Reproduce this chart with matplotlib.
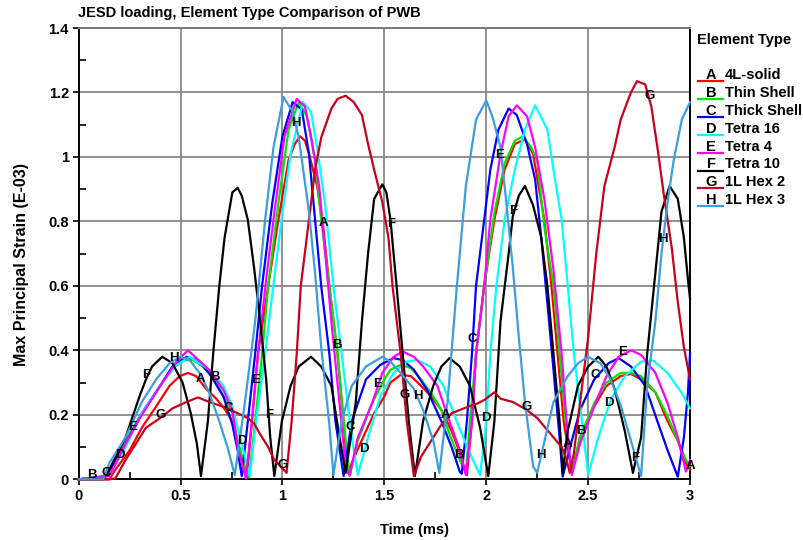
import numpy as np
import matplotlib
matplotlib.use('Agg')
import matplotlib.pyplot as plt
from matplotlib.lines import Line2D

plt.rcParams['font.family'] = ['Liberation Sans', 'DejaVu Sans']
plt.rcParams['font.weight'] = 'bold'

# ---- data (time in ms, strain in E-03) ----
tA = [0, 0.15, 0.18, 0.25, 0.31, 0.38, 0.446, 0.495, 0.536, 0.577, 0.626, 0.675, 0.72, 0.754, 0.78, 0.816, 0.825,
      0.85, 0.88, 0.93, 0.98, 1.03, 1.06, 1.087, 1.11, 1.13, 1.17, 1.20, 1.23, 1.27, 1.30, 1.32, 1.36, 1.41, 1.45,
      1.50, 1.53, 1.58, 1.63, 1.68, 1.73, 1.78, 1.83, 1.86, 1.89, 1.905, 1.93, 1.95, 1.99, 2.04, 2.09, 2.14, 2.19,
      2.23, 2.285, 2.32, 2.35, 2.38, 2.42, 2.46, 2.53, 2.59, 2.66, 2.71, 2.76, 2.83, 2.89, 2.94, 2.98, 3.0]
vA = [0, 0, 0.03, 0.09, 0.16, 0.226, 0.29, 0.32, 0.33, 0.32, 0.28, 0.25, 0.215, 0.18, 0.11, 0.03, 0.003,
      0.18, 0.39, 0.60, 0.805, 0.99, 1.04, 1.064, 1.05, 1.01, 0.91, 0.785, 0.60, 0.39, 0.18, 0.02, 0.08, 0.15, 0.205,
      0.257, 0.30, 0.324, 0.32, 0.29, 0.257, 0.215, 0.15, 0.10, 0.04, 0.013, 0.18, 0.39, 0.60, 0.805, 0.96, 1.04, 1.054,
      1.01, 0.805, 0.60, 0.39, 0.18, 0.02, 0.13, 0.226, 0.29, 0.32, 0.327, 0.31, 0.27, 0.18, 0.12, 0.05, 0.03]

tB = [0, 0.14, 0.23, 0.31, 0.40, 0.46, 0.52, 0.56, 0.61, 0.675, 0.72, 0.754, 0.78, 0.825, 0.836, 0.866, 0.90, 0.93,
      0.98, 1.03, 1.08, 1.12, 1.16, 1.19, 1.23, 1.27, 1.30, 1.33, 1.37, 1.44, 1.50, 1.53, 1.58, 1.63, 1.68, 1.73,
      1.78, 1.82, 1.87, 1.90, 1.92, 1.95, 1.99, 2.04, 2.09, 2.14, 2.18, 2.22, 2.25, 2.285, 2.33, 2.36, 2.39, 2.42,
      2.46, 2.53, 2.59, 2.66, 2.71, 2.76, 2.83, 2.89, 2.94, 2.98, 3.0]
vB = [0, 0.01, 0.12, 0.205, 0.29, 0.345, 0.37, 0.37, 0.35, 0.30, 0.246, 0.205, 0.12, 0.02, 0.006, 0.18, 0.39, 0.60,
      0.857, 1.085, 1.17, 1.126, 0.99, 0.805, 0.60, 0.39, 0.18, 0.01, 0.12, 0.236, 0.31, 0.34, 0.355, 0.345, 0.31, 0.267,
      0.215, 0.14, 0.06, 0.02, 0.18, 0.39, 0.60, 0.826, 0.98, 1.05, 1.064, 1.03, 0.99, 0.785, 0.60, 0.39, 0.18, 0.02,
      0.13, 0.236, 0.30, 0.33, 0.33, 0.32, 0.27, 0.195, 0.12, 0.06, 0.04]

tC = [0, 0.134, 0.23, 0.31, 0.40, 0.46, 0.53, 0.58, 0.64, 0.71, 0.754, 0.78, 0.80, 0.83, 0.866, 0.90, 0.95, 1.00,
      1.05, 1.095, 1.13, 1.16, 1.19, 1.23, 1.26, 1.30, 1.34, 1.41, 1.48, 1.545, 1.59, 1.645, 1.71, 1.78, 1.83, 1.87,
      1.88, 1.905, 1.93, 1.95, 1.99, 2.02, 2.06, 2.11, 2.15, 2.20, 2.24, 2.27, 2.30, 2.33, 2.36, 2.375, 2.42, 2.46,
      2.53, 2.60, 2.65, 2.71, 2.78, 2.84, 2.89, 2.94, 2.97, 2.99, 3.0]
vC = [0, 0.01, 0.11, 0.205, 0.29, 0.35, 0.38, 0.37, 0.33, 0.257, 0.17, 0.09, 0.01, 0.18, 0.39, 0.60, 0.857, 1.064,
      1.17, 1.147, 1.01, 0.805, 0.60, 0.39, 0.18, 0.01, 0.18, 0.31, 0.355, 0.376, 0.37, 0.34, 0.277, 0.18, 0.10, 0.024,
      0.017, 0.18, 0.39, 0.60, 0.805, 0.96, 1.085, 1.15, 1.13, 1.04, 0.93, 0.75, 0.547, 0.34, 0.13, 0.008, 0.12, 0.215,
      0.31, 0.36, 0.376, 0.35, 0.29, 0.18, 0.09, 0.008, 0.13, 0.27, 0.39]

tD = [0, 0.15, 0.23, 0.31, 0.40, 0.48, 0.545, 0.64, 0.71, 0.754, 0.80, 0.84, 0.87, 0.915, 0.955, 0.995, 1.04, 1.10,
      1.14, 1.17, 1.21, 1.25, 1.30, 1.34, 1.37, 1.42, 1.48, 1.545, 1.61, 1.66, 1.725, 1.79, 1.855, 1.92, 1.97, 2.00,
      2.02, 2.05, 2.09, 2.14, 2.19, 2.24, 2.30, 2.33, 2.37, 2.40, 2.43, 2.47, 2.50, 2.55, 2.61, 2.68, 2.76, 2.82,
      2.89, 2.96, 3.0]
vD = [0, 0.01, 0.10, 0.205, 0.29, 0.355, 0.38, 0.34, 0.29, 0.226, 0.11, 0.01, 0.18, 0.39, 0.60, 0.805, 1.01, 1.17,
      1.14, 1.03, 0.85, 0.60, 0.34, 0.13, 0.013, 0.13, 0.257, 0.33, 0.365, 0.37, 0.35, 0.29, 0.18, 0.08, 0.013, 0.18,
      0.39, 0.60, 0.805, 0.96, 1.085, 1.16, 1.085, 0.96, 0.805, 0.60, 0.39, 0.18, 0.013, 0.13, 0.246, 0.32, 0.365, 0.368,
      0.33, 0.267, 0.22]

tE = [0, 0.15, 0.23, 0.31, 0.40, 0.48, 0.536, 0.64, 0.71, 0.754, 0.78, 0.82, 0.85, 0.88, 0.92, 0.96, 1.01, 1.07,
      1.11, 1.14, 1.18, 1.21, 1.24, 1.28, 1.31, 1.33, 1.37, 1.44, 1.49, 1.545, 1.59, 1.645, 1.69, 1.76, 1.82, 1.87,
      1.90, 1.93, 1.95, 1.99, 2.02, 2.07, 2.11, 2.15, 2.20, 2.24, 2.285, 2.33, 2.37, 2.40, 2.42, 2.46, 2.53, 2.59,
      2.65, 2.71, 2.76, 2.83, 2.89, 2.94, 2.98, 3.0]
vE = [0, 0.01, 0.11, 0.20, 0.29, 0.365, 0.40, 0.34, 0.277, 0.215, 0.10, 0.003, 0.18, 0.39, 0.62, 0.826, 1.064, 1.18,
      1.157, 1.064, 0.91, 0.70, 0.49, 0.236, 0.04, 0.013, 0.13, 0.236, 0.33, 0.38, 0.396, 0.38, 0.35, 0.29, 0.18, 0.09,
      0.013, 0.18, 0.39, 0.60, 0.805, 1.01, 1.126, 1.16, 1.126, 1.03, 0.87, 0.65, 0.39, 0.13, 0.013, 0.11, 0.226, 0.32,
      0.38, 0.40, 0.386, 0.33, 0.236, 0.13, 0.024, 0.06]

tF = [0, 0.12, 0.15, 0.23, 0.30, 0.33, 0.36, 0.41, 0.46, 0.51, 0.55, 0.58, 0.60, 0.634, 0.66, 0.69, 0.716, 0.754,
      0.78, 0.80, 0.83, 0.86, 0.89, 0.92, 0.94, 0.96, 0.997, 1.04, 1.08, 1.14, 1.19, 1.24, 1.28, 1.31, 1.36, 1.39, 1.42,
      1.45, 1.49, 1.51, 1.53, 1.56, 1.59, 1.62, 1.65, 1.69, 1.74, 1.78, 1.82, 1.87, 1.92, 1.97, 2.01, 2.04, 2.07, 2.11,
      2.13, 2.16, 2.19, 2.23, 2.27, 2.30, 2.33, 2.36, 2.375, 2.40, 2.45, 2.50, 2.55, 2.59, 2.63, 2.68, 2.72, 2.76, 2.79,
      2.83, 2.86, 2.90, 2.94, 2.97, 2.99, 3.0]
vF = [0, 0, 0.03, 0.13, 0.26, 0.31, 0.35, 0.38, 0.36, 0.30, 0.205, 0.11, 0.01, 0.18, 0.39, 0.60, 0.75, 0.89,
      0.904, 0.88, 0.805, 0.66, 0.495, 0.31, 0.13, 0.01, 0.18, 0.29, 0.35, 0.38, 0.35, 0.29, 0.13, 0.02, 0.24, 0.49, 0.70,
      0.87, 0.915, 0.89, 0.805, 0.60, 0.39, 0.18, 0.01, 0.18, 0.29, 0.35, 0.376, 0.35, 0.29, 0.16, 0.01, 0.18, 0.49, 0.70,
      0.815, 0.88, 0.91, 0.85, 0.75, 0.60, 0.39, 0.18, 0.02, 0.15, 0.29, 0.35, 0.38, 0.35, 0.28, 0.15, 0.02, 0.13, 0.39,
      0.64, 0.83, 0.91, 0.87, 0.75, 0.62, 0.56]

tG = [0, 0.15, 0.18, 0.23, 0.28, 0.33, 0.40, 0.46, 0.53, 0.585, 0.64, 0.71, 0.78, 0.83, 0.86, 0.89, 0.93, 0.96,
      1.02, 1.045, 1.07, 1.09, 1.13, 1.16, 1.19, 1.24, 1.27, 1.31, 1.35, 1.39, 1.42, 1.45, 1.49, 1.52, 1.54, 1.58, 1.61,
      1.645, 1.68, 1.73, 1.78, 1.83, 1.89, 1.96, 1.99, 2.04, 2.07, 2.13, 2.20, 2.25, 2.285, 2.33, 2.37, 2.39, 2.41,
      2.43, 2.46, 2.50, 2.54, 2.58, 2.63, 2.66, 2.71, 2.74, 2.78, 2.81, 2.84, 2.87, 2.91, 2.94, 2.97, 3.0]
vG = [0, 0, 0.003, 0.06, 0.11, 0.16, 0.19, 0.22, 0.24, 0.254, 0.24, 0.225, 0.205, 0.19, 0.174, 0.14, 0.10, 0.06,
      0.02, 0.18, 0.39, 0.60, 0.805, 0.96, 1.06, 1.15, 1.18, 1.19, 1.17, 1.13, 1.04, 0.96, 0.86, 0.75, 0.60, 0.39, 0.18,
      0.01, 0.07, 0.12, 0.17, 0.205, 0.22, 0.236, 0.246, 0.27, 0.25, 0.24, 0.215, 0.19, 0.164, 0.13, 0.10, 0.07, 0.02,
      0.08, 0.236, 0.44, 0.70, 0.91, 1.03, 1.116, 1.20, 1.235, 1.225, 1.157, 1.03, 0.89, 0.72, 0.55, 0.41, 0.31]

tH = [0, 0.12, 0.15, 0.23, 0.31, 0.38, 0.446, 0.50, 0.544, 0.593, 0.64, 0.69, 0.73, 0.766, 0.816, 0.866, 0.915,
      0.956, 1.005, 1.05, 1.08, 1.13, 1.16, 1.19, 1.23, 1.25, 1.29, 1.34, 1.41, 1.49, 1.53, 1.58, 1.645, 1.69, 1.74,
      1.77, 1.81, 1.856, 1.90, 1.95, 2.00, 2.03, 2.07, 2.10, 2.13, 2.16, 2.19, 2.23, 2.25, 2.29, 2.33, 2.40, 2.45,
      2.50, 2.56, 2.61, 2.66, 2.71, 2.76, 2.79, 2.83, 2.86, 2.89, 2.92, 2.96, 3.0]
vH = [0, 0, 0.05, 0.13, 0.24, 0.31, 0.36, 0.38, 0.37, 0.33, 0.27, 0.18, 0.10, 0.013, 0.24, 0.49, 0.805,
      1.03, 1.186, 1.14, 1.06, 0.83, 0.64, 0.41, 0.17, 0.013, 0.18, 0.29, 0.35, 0.38, 0.365, 0.33, 0.28, 0.215, 0.12,
      0.02, 0.24, 0.60, 0.91, 1.116, 1.175, 1.126, 1.03, 0.85, 0.66, 0.44, 0.24, 0.04, 0.02, 0.13, 0.24, 0.32, 0.36,
      0.38, 0.36, 0.31, 0.23, 0.12, 0.01, 0.29, 0.49, 0.70, 0.86, 0.99, 1.116, 1.17]

letters = ['A', 'B', 'C', 'D', 'E', 'F', 'G', 'H']
names = ['4L-solid', 'Thin Shell', 'Thick Shell', 'Tetra 16', 'Tetra 4', 'Tetra 10', '1L Hex 2', '1L Hex 3']
colors = ['#ff0000', '#00e600', '#0000ff', '#00ffff', '#ff00ff', '#000000', '#c80020', '#3c9ee0']
times = [tA, tB, tC, tD, tE, tF, tG, tH]
vals = [vA, vB, vC, vD, vE, vF, vG, vH]

xticks = [0, 0.5, 1, 1.5, 2, 2.5, 3]
xticklabels = ['0', '0.5', '1', '1.5', '2', '2.5', '3']
yticks = [0, 0.2, 0.4, 0.6, 0.8, 1.0, 1.2, 1.4]
yticklabels = ['0', '0.2', '0.4', '0.6', '0.8', '1', '1.2', '1.4']

W, H = 804, 540
fig = plt.figure(figsize=(W / 100, H / 100), dpi=100)
ax = fig.add_axes([78.7 / W, 1 - 479.3 / H, (690 - 78.7) / W, (479.3 - 28) / H])

for i in range(8):
    t = np.array(times[i])
    v = np.array(vals[i])
    ax.plot(t, v, color=colors[i], lw=1.6, zorder=3 + i, clip_on=False)
    # curve letters every 0.6 ms, staggered by series
    for k in range(6):
        tt = i / 15 + 0.6 * k
        if tt <= 0 or tt > 3.0001:
            continue
        ax.text(tt, np.interp(tt, t, v) + 0.01, letters[i], ha='center', va='center',
                fontsize=9.5, color='black', zorder=20, clip_on=False)

ax.set_xlim(0, 3)
ax.set_ylim(0, 1.4)
ax.set_xticks(xticks)
ax.set_xticklabels(xticklabels)
ax.set_yticks(yticks)
ax.set_yticklabels(yticklabels)
ax.set_xticks(np.arange(0.25, 3, 0.5), minor=True)
ax.set_yticks(np.arange(0.1, 1.4, 0.2), minor=True)
ax.tick_params(which='major', direction='out', length=4, width=1.2, labelsize=10.5, pad=3)
ax.tick_params(which='minor', direction='in', length=5, width=1.2)
ax.grid(True, which='major', color='#888888', lw=1.3)
ax.set_axisbelow(True)
for s in ['left', 'bottom', 'right']:
    ax.spines[s].set_color('black')
    ax.spines[s].set_linewidth(1.4)
ax.spines['top'].set_color('#777777')
ax.spines['top'].set_linewidth(1.4)

fig.text(78 / W, 1 - 13 / H, 'JESD loading, Element Type Comparison of PWB', ha='left', va='center',
         fontsize=10.5, fontweight='bold')
fig.text(22 / W, 1 - 264 / H, 'Max Principal Strain (E-03)', rotation=90, ha='center', va='center',
         fontsize=11.5, fontweight='bold')
fig.text(414 / W, 1 - 530 / H, 'Time (ms)', ha='center', va='center', fontsize=10.5, fontweight='bold')

# legend block on the right
fig.text(697 / W, 1 - 40 / H, 'Element Type', ha='left', va='center', fontsize=10.5, fontweight='bold')
for i in range(8):
    yc = 75 + 17.9 * i
    fig.add_artist(Line2D([698 / W, 723 / W], [1 - (yc + 6) / H] * 2, color=colors[i], lw=1.6,
                          transform=fig.transFigure))
    fig.text(711 / W, 1 - yc / H, letters[i], ha='center', va='center', fontsize=10.5, fontweight='bold')
    fig.text(725 / W, 1 - yc / H, names[i], ha='left', va='center', fontsize=10.5, fontweight='bold')

fig.savefig('out.png', dpi=100)
